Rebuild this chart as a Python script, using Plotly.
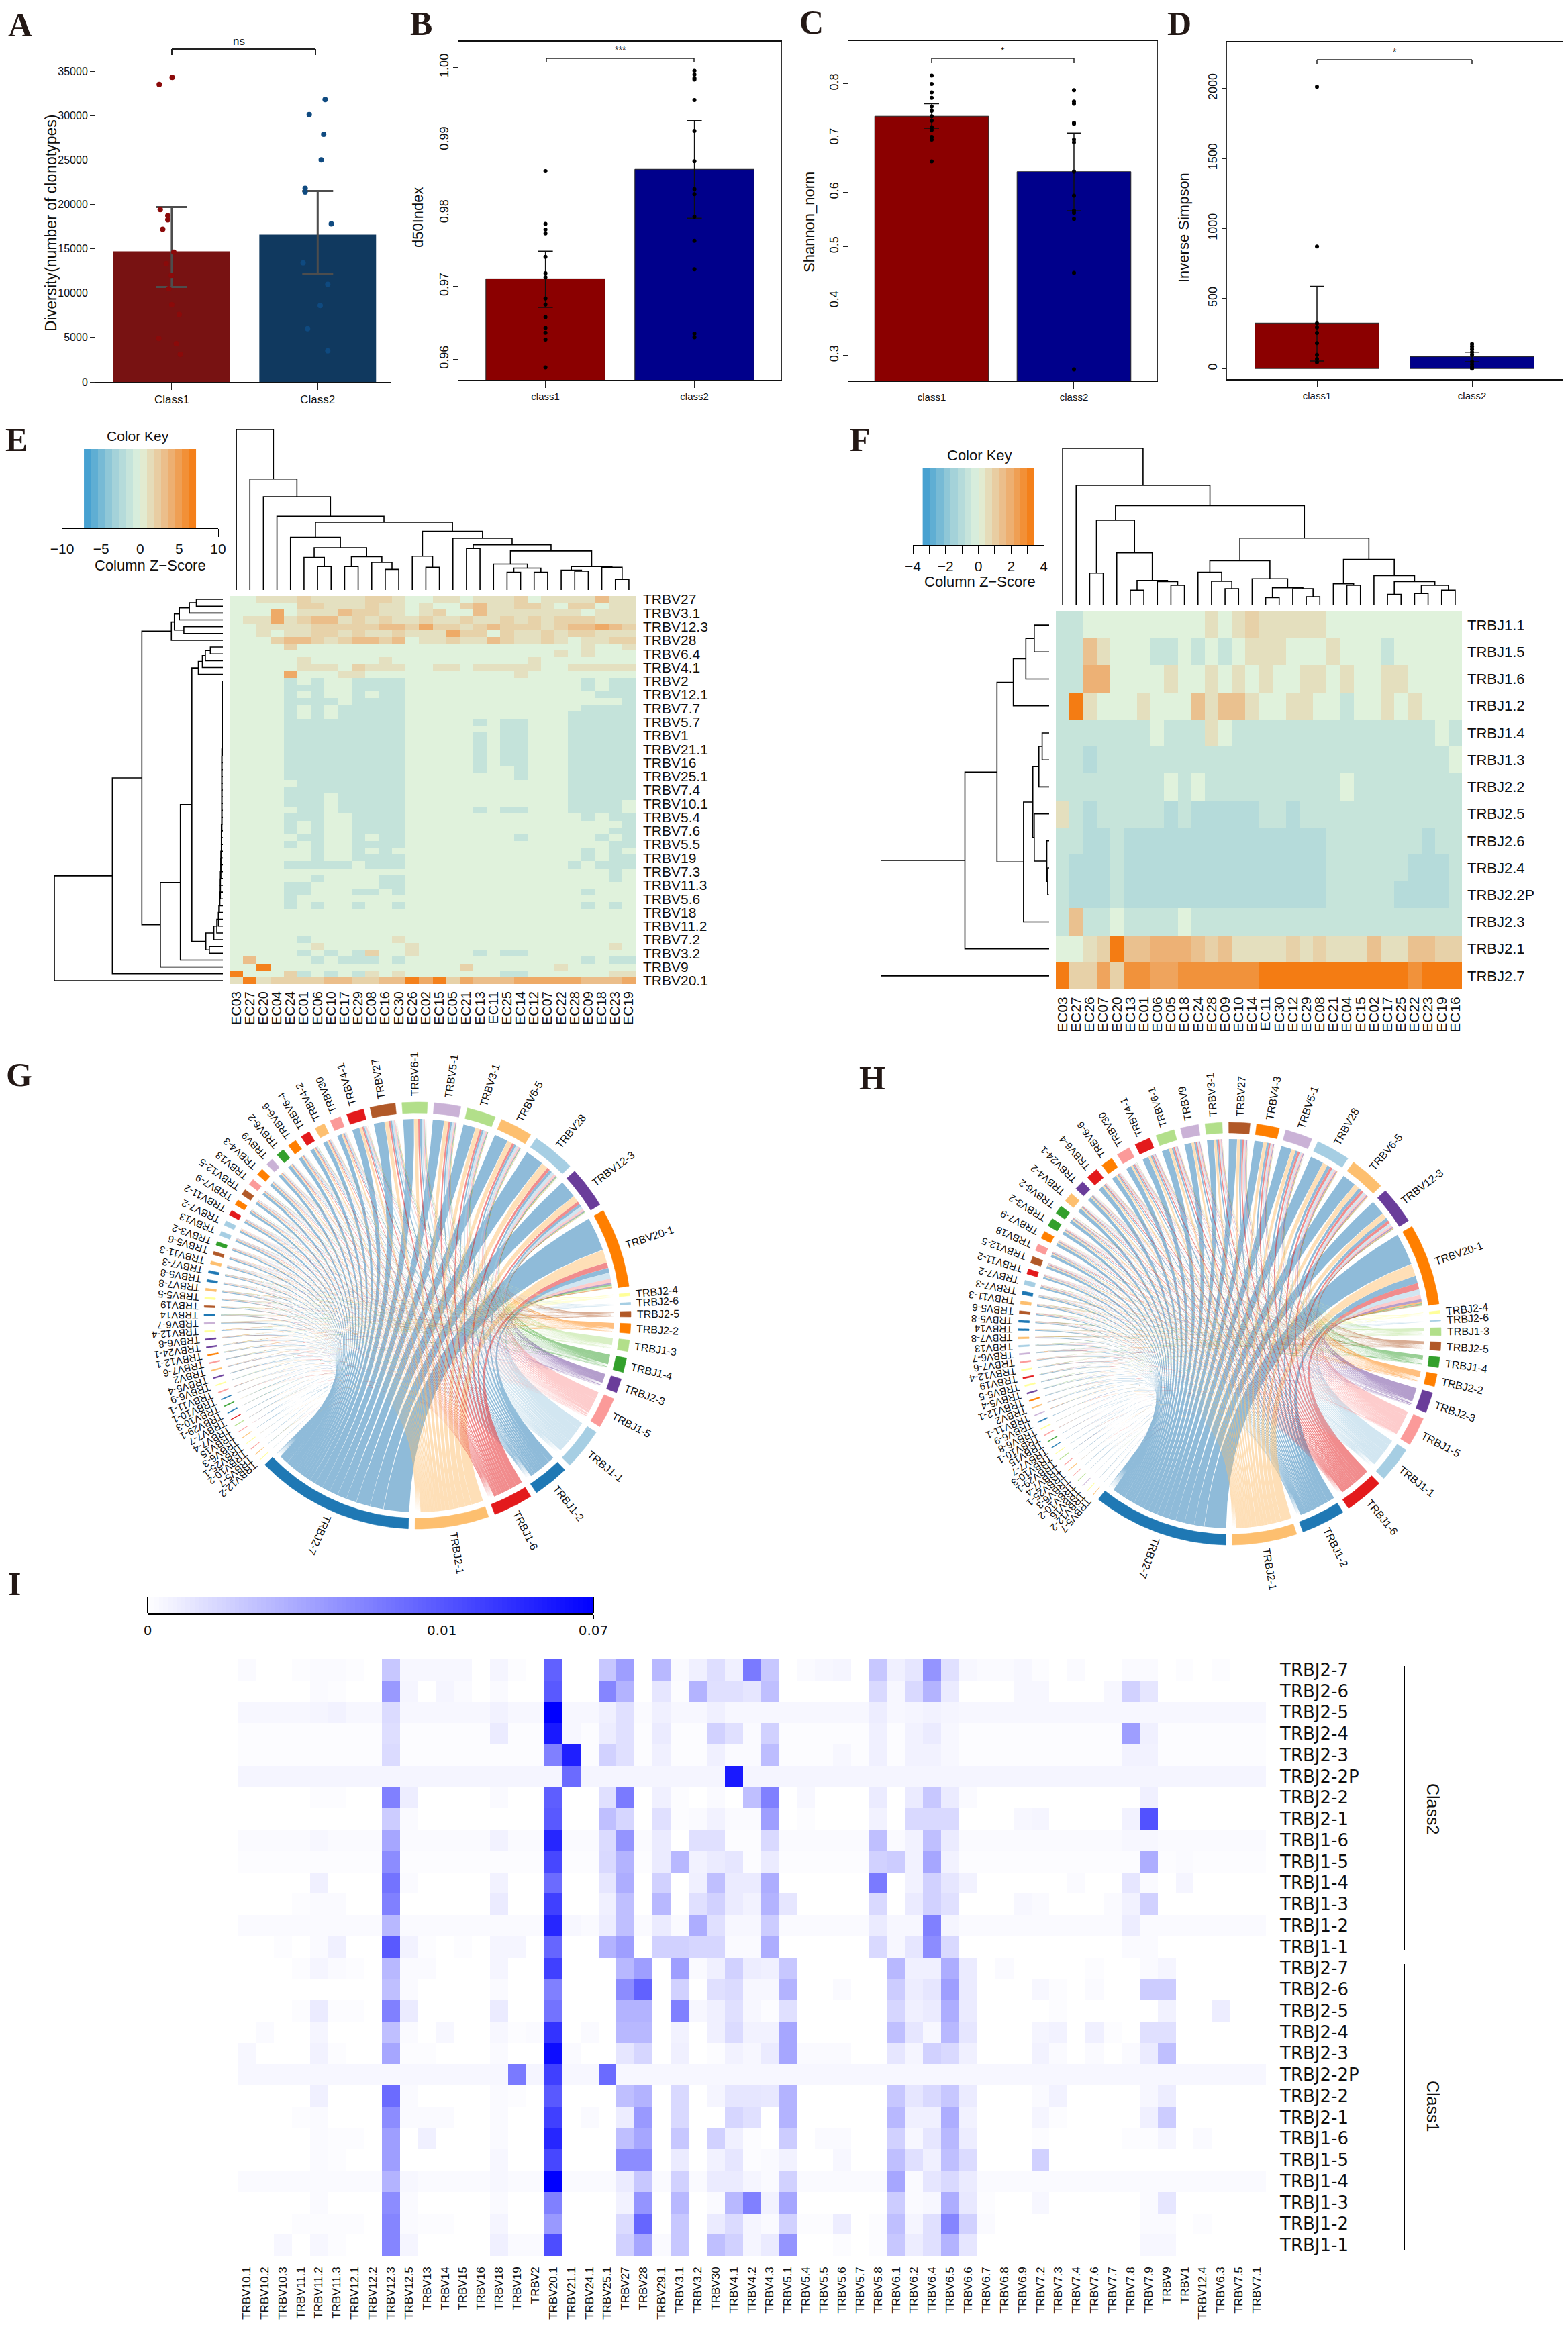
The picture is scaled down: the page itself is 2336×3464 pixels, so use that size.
import numpy as np
import plotly.graph_objects as go

W, H = 2336, 3464
SANS = "Liberation Sans"
WIDE = "DejaVu Sans"
SERIF = "Liberation Serif"

# ---------- panels A-D ----------
classes_upper = ["Class1", "Class2"]
classes_lower = ["class1", "class2"]

A_bars = [14700, 16600]
A_err_low = [10700, 12200]
A_err_high = [19700, 21500]
A_c1_pts = [33500, 34300, 19400, 18700, 18250, 17200, 14600, 13300, 12000, 10500, 8700, 7600, 4900, 4300, 3100]
A_c1_jit = [-.086, .003, -.079, -.027, -.027, -.062, .014, -.038, -.003, -.02, 0, .051, -.089, .031, .058]
A_c2_pts = [31800, 30100, 27900, 25000, 21800, 21400, 17800, 13400, 11000, 8600, 6000, 3500]
A_c2_jit = [.051, -.058, .041, .024, -.086, -.086, .093, -.1, .069, .017, -.069, .069]

B_bars = [.971, .986]
B_err_low = [.96709, .97929]
B_err_high = [.97479, .99268]
B_c1_pts = [.98574, .97854, .97775, .97722, .974, .97178, .97122, .96829, .96747, .96574, .96428, .96361, .96267, .95884]
B_c2_pts = [.9995, .999, .9985, .9983, .9955, .99126, .9871, .9833, .9826, .9795, .9762, .9723, .9635, .963]

C_bars = [.74, .638]
C_err_low = [.718, .566]
C_err_high = [.763, .709]
C_c1_pts = [.815, .7995, .784, .774, .758, .75, .74, .732, .72, .715, .702, .697, .657]
C_c2_pts = [.788, .767, .763, .728, .726, .697, .692, .638, .594, .566, .562, .551, .452, .274]

D_bars = [325, 84]
D_err_low = [53, 48]
D_err_high = [587, 117]
D_c1_pts = [2012, 871, 323, 294, 254, 182, 98, 68, 45]
D_c2_pts = [176, 157, 137, 117, 98, 49, 29, 10, 0]

# ---------- panel E ----------
E_cols = "EC03 EC27 EC20 EC04 EC24 EC01 EC06 EC10 EC17 EC29 EC08 EC16 EC30 EC26 EC02 EC15 EC05 EC21 EC13 EC11 EC25 EC14 EC12 EC07 EC22 EC28 EC09 EC18 EC23 EC19".split()
E_row_labels = "TRBV27 TRBV3.1 TRBV12.3 TRBV28 TRBV6.4 TRBV4.1 TRBV2 TRBV12.1 TRBV7.7 TRBV5.7 TRBV1 TRBV21.1 TRBV16 TRBV25.1 TRBV7.4 TRBV10.1 TRBV5.4 TRBV7.6 TRBV5.5 TRBV19 TRBV7.3 TRBV11.3 TRBV5.6 TRBV18 TRBV11.2 TRBV7.2 TRBV3.2 TRBV9 TRBV20.1".split()
E_levels = {".": 0, "b": -1.5, "t": 1.1, "T": 2.0, "o": 3.2, "O": 4.4, "R": 6.8}
B18 = "....bbbbbbbbb" + "." * 5 + "b.bb...bbbbb"
E_rows = [
    "..tttTttttTTt..tt.tttT.ttttott",
    ".....TTtttTtt.t..TottTTt.TT.tt",
    "...O.tttoTTtt.tT..ottttttt.ttt",
    ".ttOtTootTtTttTttTttTtTtTTTttt",
    ".." + "tttt" + "TTTTT" + "oo" + "T" + "O" + "TT" + "t" + "T" + "o" + "TTT" + "t" + "T" + "oo" + "O" + "o" + "T",
    "..t.ttTTtTttTtttOTT.TttTtTTttt",
    "..." + "T" + "oo" + "T" + "t" + "T" + "oo" + "T" + "o" + "." + "tt" + "T" + "tt" + "o" + "T" + "tt" + "T" + "t" + "." + "t" + "t" + "TT",
    "....T" + "." * 21 + "t..t",
    "." * 24 + "t.t" + "...",
    ".....t" + "." * 5 + "t" + "." * 10 + "t" + "." * 7,
    ".....ttt.Tttt" + "..tt.ttttt..ttttt",
    "....O...tt" + "." * 11 + "t" + "." * 8,
    "....b.b..bbbb.............b.bb",
    "....bbb..bbbb.............b.bb",
    "....b.b..b.bb" + "." * 14 + "bbb",
    "....bbbb.bbbb" + "." * 16 + "b",
    "....b.b.bbbbb" + "." * 13 + "bbbb",
    "....b.b.bbbbb" + "." * 12 + "bbbbb",
    B18,
    "....bbbbbbbbb" + "." * 7 + "bb...bbbbb",
    B18, B18, B18, B18, B18,
    "....bbbbbbbbb" + "." * 5 + "b..b...bbbbb",
    "....bbbbbbbbb" + "." * 8 + "b...bbbbb",
    ".....bbbbbbbb" + "." * 12 + "bbbbb",
    "....bbbbbbbbb" + "." * 12 + "bbbbb",
    "....bbb.bbbbb" + "." * 12 + "bbbbb",
    "....bbb.bbbbb" + "." * 12 + "bbbb.",
    ".....bb.bbbbb" + "." * 5 + "b.bb...bbbb.",
    "....bbb..bbbb" + "." * 13 + "b.bb",
    "....b.b..bbbb" + "." * 13 + "...b",
    "....b.b..bbbb" + "." * 13 + "..bb",
    ".....bb..b.bb" + "." * 8 + "b" + "." * 5 + "b.b",
    "....b.b..bbbb" + "." * 15 + "bb",
    "......b..b.b." + "." * 13 + "b.b.",
    "......b..bbbb" + "." * 13 + "b.bb",
    "....bbbbb.bbb" + "." * 12 + "b.bbb",
    "." * 28 + "b.",
    "......b....bb" + "." * 15 + "b.",
    "....bb.....bb" + "." * 17,
    "....bb...bb.b" + "." * 13 + "b...",
    "....b" + "." * 25,
    "....b.b..b..b" + "." * 13 + "b.b.",
    "." * 30, "." * 30, "." * 30, "." * 30,
    ".....b......t" + "." * 17,
    "......t......t" + "." * 14 + "t.",
    ".....b.b.bT..t" + "." * 4 + "b.bb" + "." * 8,
    ".o....b.bbb.b" + "." * 13 + "b.bb",
    "..R" + "." * 14 + "T" + "." * 6 + "t" + "." * 5,
    "R...Tb.b.bt.t" + "." * 7 + "bb" + "." * 6 + "tt",
    "tRtTTTTooTToo" + "RORTO" + "ooo" + "OOOOO" + "ooo" + "O",
]
E_col_tree = [392, 0, [270, 1, [227, 2, [179, 3, [165,
    [128, 4, [103, [79, 5, [57, 6, 7]], [81, [57, 8, 9], [67, 10, [50, 11, 12]]]]],
    [143, [82, 13, [55, 14, 15]],
     [126, 16, [110, [101, 17, 18],
                [95, [63, 19, [53, [43, 20, 21], [43, 22, 23]]],
                 [57, [48, 24, [46, 25, 26]], [55, 27, [26, 28, 29]]]]]]]]]]]]
E_chain_h = [1] * 10 + [2] * 11 + [3] * 4 + [4] * 3 + [5] * 3 + [6, 7, 8, 9, 12, 18]
E_chain_tree = [1, 12, 13]
for _i, _h in enumerate(E_chain_h):
    E_chain_tree = [_h, E_chain_tree, 14 + _i]
E_row_tree = [337, [221, [162,
    [103, [97, [87, [67, [53, 0, 1], 2], 3], [78, 4, 5]], 6],
    [125, [85, [62, [49, [41, [35, [25, 7, 8], 9], 10], 11],
           [34, E_chain_tree, [27, 51, 52]]], 53], 54]], 55], 56]

# ---------- panel F ----------
F_cols = "EC03 EC27 EC26 EC07 EC20 EC13 EC01 EC06 EC05 EC18 EC24 EC28 EC09 EC10 EC14 EC11 EC30 EC12 EC29 EC08 EC21 EC04 EC15 EC02 EC17 EC25 EC22 EC23 EC19 EC16".split()
F_row_labels = "TRBJ1.1 TRBJ1.5 TRBJ1.6 TRBJ1.2 TRBJ1.4 TRBJ1.3 TRBJ2.2 TRBJ2.5 TRBJ2.6 TRBJ2.4 TRBJ2.2P TRBJ2.3 TRBJ2.1 TRBJ2.7".split()
F_levels = {".": 0, "l": -.65, "m": -1.05, "t": .55, "T": .95, "o": 1.4, "O": 1.85, "G": 2.2, "R": 2.7, "X": 3.3}
F_rows = [
    "ll" + "." * 9 + "t.tT" + "ttttt" + "." * 10,
    "ll" + "ot" + "..." + "ll.l.l." + "ttt" + "..." + "t" + "..." + "l" + "." * 5,
    "ll" + "OO" + "...." + "t..t.t.t..tt.t..tt" + "....",
    "lXt...t...ot" + "oot..tt..l..t.t...",
    "l" * 7 + "." + "lll" + "t." + "l" * 15 + ".l",
    "llm" + "l" * 26 + ".",
    "l" * 8 + ".l." + "l" * 10 + "." + "l" * 8,
    "tlm" + "lllll" + "ml" + "mmmmm" + "llm" + "l" * 12,
    "llmml" + "m" * 15 + "l" * 7 + "mll",
    "lmmml" + "m" * 15 + "l" * 6 + "mmml",
    "lmmml" + "m" * 15 + "lllll" + "mmmml",
    "loll." + "llll" + "." + "l" * 20,
    "..tTXooOOOoTo" + "tttt" + "TtT" + "ttt" + "o" + "tt" + "oo" + "TT",
    "XTTGTRRGGRRRRRR" + "X" * 11 + "R" + "XXX",
]
F_col_tree = [383, 0, [293, 1, [243,
    [208, [79, 2, 3], [128, 4, [61, [37, 5, 6], [58, 7, [49, 8, 9]]]]],
    [164,
     [109, [81, 10, [59, 11, [41, 12, 13]]], [65, 14, [43, [19, 15, 16], [41, 17, [21, 18, 19]]]]],
     [112, [53, 20, [49, 21, 22]], [73, 23, [58, [27, 24, 25], [49, [29, 26, 27], [37, 28, 29]]]]]]]]]
F_row_tree = [362, [181, [112,
    [77, [50, [32, 0, 1], 2], 3],
    [55, [35, [22, [15, 4, 5], 6], [32, 7, [5, 8, [3, 9, 10]]]], 11]], 12], 13]

# ---------- panels G, H ----------
Bl, DB, LG, DG, Pk, Rd, LO, Or, LP, DP, Yl, Br = ("#a6cee3", "#1f78b4", "#b2df8a", "#33a02c", "#fb9a99", "#e31a1c",
                                                  "#fdbf6f", "#ff7f00", "#cab2d6", "#6a3d9a", "#ffff99", "#b15928")
G_v_names = "20-1 12-3 28 6-5 3-1 5-1 6-1 27 4-1 30 4-2 6-4 6-6 6-2 9 4-3 18 12-5 7-9 11-2 7-2 13 3-2 5-6 11-3 7-3 5-8 7-8 5-5 19 14 6-7 12-4 6-8 24-1 12-1 7-6 2 5-4 6-9 11-1 10-1 10-3 29-1 7-7 7-4 15 6-3 25-1 10-2 5-7 12-2".split()
G_v_sizes = [22, 11.5, 12, 9, 8, 7.4, 7, 7, 4.8, 3, 2.8, 2.6, 2.4, 2.2, 2, 1.9, 1.7, 1.6, 1.5, 1.4, 1.3, 1.2, 1, .9, .8, .7, .6, .6, .5, .5, .45, .45, .4, .35, .35, .35, .3, .3, .3, .25, .25, .2, .2, .2, .15, .15, .1, .1, .1, .1, .08, .08]
G_v_colors = [Or, DP, Bl, LO, LG, LP, LG, Br, Rd, Pk, LO, Rd, Or, DG, LP, Or, Pk, Br, Or, Rd, Bl, Bl, DG, Br, LO, DB, DB, LO, Yl, Br, DB, LP, Yl, DP, DP, Or, Pk, LO, DP, Yl, Pk, DB, DG, DB, Rd, LG, Pk, LO, Yl, Pk, LO, Yl]
G_j_names = "2-4 2-6 2-5 2-2 1-3 1-4 2-3 1-5 1-1 1-2 1-6 2-1 2-7".split()
G_j_sizes = [.8, .6, 1.5, 2.7, 3.2, 4, 4, 8.5, 11.6, 10, 11, 20.5, 44]
G_j_colors = [Yl, Bl, Br, Or, LG, DG, DP, Pk, Bl, DB, Rd, LO, DB]

H_v_names = "20-1 12-3 6-5 28 5-1 4-3 27 3-1 9 6-1 4-1 30 6-6 6-4 24-1 4-2 6-2 3-2 7-9 18 12-5 11-2 7-2 7-3 11-3 5-6 5-8 14 7-8 13 6-7 7-6 12-4 19 5-5 5-4 12-1 2 11-1 6-9 6-8 10-1 15 7-7 10-3 29-1 7-4 25-1 6-3 10-2 16 12-2 5-7".split()
H_v_sizes = [24, 11, 10.5, 10, 8, 6.7, 6.2, 5, 5.3, 5.5, 4.7, 4, 3.5, 3.5, 2.8, 2.8, 2.5, 2.4, 2.2, 2, 1.9, 1.5, 1.3, 1, .9, .8, .6, .5, .5, .45, .4, .4, .4, .4, .4, .35, .35, .3, .25, .25, .2, .2, .15, .15, .12, .12, .1, .1, .1, .1, .08, .08, .08]
H_v_colors = [Or, DP, LO, Bl, LP, Or, Br, LG, LP, LG, Rd, Pk, Or, Rd, DP, LO, DG, DG, Or, Pk, Br, Rd, Bl, DB, LO, Br, DB, DB, LO, Bl, LP, Pk, Yl, Rd, Yl, DP, Or, LO, LP, DB, Yl, Pk, DG, DB, Yl, LG, Pk, LO, Pk, LG, LP, Yl, LO]
H_j_names = "2-4 2-6 1-3 2-5 1-4 2-2 2-3 1-5 1-1 1-6 1-2 2-1 2-7".split()
H_j_sizes = [.8, .3, 2.3, 2.5, 3, 3.7, 6, 8.5, 10.5, 11.5, 13, 19, 40]
H_j_colors = [Yl, Bl, LG, Br, DG, Or, DP, Pk, Bl, Rd, DB, LO, DB]

# ---------- panel I ----------
I_cols = "10.1 10.2 10.3 11.1 11.2 11.3 12.1 12.2 12.3 12.5 13 14 15 16 18 19 2 20.1 21.1 24.1 25.1 27 28 29.1 3.1 3.2 30 4.1 4.2 4.3 5.1 5.4 5.5 5.6 5.7 5.8 6.1 6.2 6.4 6.5 6.6 6.7 6.8 6.9 7.2 7.3 7.4 7.6 7.7 7.8 7.9 9 1 12.4 6.3 7.5 7.1".split()
I_row_j = "2-7 2-6 2-5 2-4 2-3 2-2P 2-2 2-1 1-6 1-5 1-4 1-3 1-2 1-1".split()
I_rows = [
    (0, {0: 2, 3: 1, 4: 2, 5: 2, 6: 1, 8: 22, 9: 3, 10: 3, 11: 3, 12: 3, 14: 4, 15: 1, 17: 62, 20: 22, 21: 38, 23: 28, 24: 2, 25: 6, 26: 13, 27: 6, 28: 52, 29: 22, 31: 2, 32: 3, 33: 4, 35: 22, 36: 6, 37: 10, 38: 42, 39: 12, 40: 3, 41: 2, 42: 2, 43: 3, 44: 1, 46: 2, 49: 2, 50: 2, 52: 1, 54: 1}),
    (0, {4: 2, 5: 1, 8: 40, 9: 4, 11: 4, 12: 2, 14: 2, 17: 65, 20: 48, 21: 30, 23: 10, 24: 1, 25: 30, 26: 12, 27: 12, 28: 10, 29: 25, 35: 15, 36: 3, 37: 15, 38: 30, 39: 8, 43: 3, 44: 3, 48: 3, 49: 18, 50: 10}),
    (3, {4: 4, 5: 5, 8: 14, 14: 5, 17: 100, 20: 6, 21: 12, 22: 2, 23: 6, 26: 6, 35: 7, 37: 4, 38: 5, 39: 4}),
    (1, {8: 13, 14: 8, 17: 90, 18: 3, 20: 7, 21: 12, 23: 8, 26: 18, 27: 12, 28: 2, 29: 18, 35: 6, 37: 5, 38: 8, 39: 3, 49: 38, 50: 6}),
    (1, {8: 14, 17: 50, 18: 88, 20: 18, 21: 12, 23: 6, 26: 6, 27: 2, 28: 2, 29: 26, 33: 3, 35: 6, 37: 5, 38: 5, 39: 3, 49: 5, 50: 5}),
    (4, {18: 58, 27: 90}),
    (0, {4: 1, 5: 1, 8: 50, 9: 7, 14: 2, 17: 63, 20: 12, 21: 52, 23: 6, 24: 1, 26: 2, 28: 25, 29: 50, 31: 3, 35: 8, 37: 8, 38: 22, 39: 8, 40: 2, 50: 6}),
    (0, {8: 20, 9: 2, 17: 65, 20: 25, 21: 16, 23: 12, 24: 1, 25: 2, 26: 5, 27: 2, 28: 2, 29: 38, 31: 1, 35: 5, 37: 15, 38: 15, 39: 15, 43: 3, 44: 4, 49: 5, 50: 68}),
    (2, {4: 3, 8: 35, 14: 5, 17: 85, 20: 14, 21: 42, 23: 8, 24: 0, 25: 12, 26: 12, 27: 1, 28: 1, 29: 15, 35: 25, 37: 5, 38: 25, 39: 8, 49: 3, 50: 3}),
    (1, {8: 45, 17: 72, 20: 15, 21: 30, 23: 8, 24: 28, 25: 5, 26: 8, 27: 10, 29: 8, 35: 18, 36: 20, 37: 5, 38: 35, 39: 5, 50: 32, 52: 2}),
    (0, {4: 6, 8: 55, 9: 2, 14: 5, 17: 58, 20: 10, 21: 32, 23: 18, 25: 6, 26: 25, 27: 8, 28: 8, 29: 32, 35: 52, 37: 5, 38: 18, 39: 10, 40: 5, 46: 2, 49: 10, 50: 2, 52: 4}),
    (0, {3: 1, 4: 2, 5: 2, 8: 50, 14: 8, 17: 75, 20: 6, 21: 25, 23: 28, 25: 12, 26: 18, 27: 8, 28: 5, 29: 30, 30: 10, 35: 15, 37: 8, 38: 18, 39: 12, 43: 3, 44: 2, 48: 2, 49: 5, 50: 18}),
    (2, {8: 28, 17: 85, 18: 3, 20: 7, 21: 25, 23: 8, 25: 32, 26: 12, 27: 3, 28: 3, 29: 20, 35: 8, 36: 3, 37: 3, 38: 50, 39: 4, 49: 7}),
    (0, {2: 1, 4: 2, 5: 6, 8: 65, 9: 5, 10: 1, 12: 1, 14: 4, 15: 4, 17: 60, 20: 30, 21: 38, 23: 18, 24: 18, 25: 16, 26: 16, 27: 2, 28: 2, 29: 32, 35: 15, 36: 3, 37: 10, 38: 45, 39: 15, 49: 2, 50: 2}),
    (0, {3: 1, 4: 4, 5: 2, 6: 1, 8: 28, 9: 2, 10: 2, 14: 4, 17: 75, 21: 28, 22: 38, 24: 38, 25: 2, 26: 6, 27: 18, 28: 7, 29: 6, 30: 22, 36: 28, 37: 6, 38: 6, 39: 32, 40: 8, 42: 2, 47: 1, 50: 2, 51: 4}),
    (0, {8: 25, 9: 2, 14: 2, 17: 50, 21: 45, 22: 62, 24: 18, 26: 12, 27: 14, 28: 3, 29: 3, 30: 30, 33: 2, 36: 20, 37: 7, 38: 10, 39: 38, 40: 8, 44: 3, 45: 1, 47: 2, 50: 20, 51: 20}),
    (0, {3: 1, 4: 8, 5: 1, 6: 1, 8: 50, 9: 8, 14: 8, 17: 55, 21: 30, 22: 30, 24: 50, 25: 3, 26: 6, 27: 12, 28: 3, 29: 1, 30: 12, 36: 16, 37: 6, 38: 8, 39: 32, 40: 8, 45: 1, 51: 5, 54: 7}),
    (0, {1: 2, 4: 4, 8: 25, 9: 2, 11: 3, 14: 3, 15: 1, 16: 2, 17: 80, 19: 2, 21: 28, 22: 28, 24: 5, 26: 6, 27: 14, 28: 5, 29: 5, 30: 35, 36: 25, 37: 10, 38: 3, 39: 28, 40: 10, 44: 4, 45: 5, 47: 6, 48: 1, 50: 12, 51: 12}),
    (0, {0: 3, 4: 5, 5: 1, 8: 35, 9: 1, 10: 1, 14: 2, 17: 95, 18: 2, 21: 10, 22: 16, 24: 6, 26: 1, 27: 5, 28: 3, 29: 8, 30: 35, 31: 2, 32: 2, 33: 2, 36: 10, 37: 4, 38: 18, 39: 15, 40: 6, 44: 5, 45: 2, 47: 2, 49: 2, 50: 8, 51: 25}),
    (3, {15: 52, 16: 4, 17: 75, 20: 58}),
    (0, {4: 6, 8: 58, 9: 2, 14: 2, 15: 1, 17: 65, 21: 25, 22: 30, 24: 15, 26: 4, 27: 10, 28: 10, 29: 9, 30: 30, 36: 22, 37: 10, 38: 15, 39: 22, 40: 8, 44: 2, 45: 5, 50: 3, 51: 7}),
    (0, {3: 1, 4: 2, 8: 45, 9: 2, 10: 2, 11: 2, 14: 2, 17: 75, 19: 2, 21: 7, 22: 40, 24: 15, 27: 16, 28: 12, 30: 30, 36: 28, 37: 6, 38: 6, 39: 32, 40: 5, 44: 4, 45: 1, 50: 6, 51: 20}),
    (0, {4: 2, 5: 1, 6: 1, 8: 38, 10: 6, 14: 2, 17: 85, 21: 25, 22: 35, 24: 22, 26: 18, 27: 6, 28: 1, 30: 20, 32: 2, 33: 2, 36: 18, 37: 3, 38: 10, 39: 28, 40: 7, 44: 1, 49: 1, 50: 1, 51: 4, 53: 2}),
    (0, {4: 2, 5: 1, 8: 38, 14: 3, 17: 72, 21: 45, 22: 45, 24: 8, 26: 5, 27: 10, 28: 1, 29: 2, 30: 5, 33: 3, 36: 25, 37: 12, 38: 6, 39: 25, 40: 14, 44: 18}),
    (2, {8: 30, 9: 3, 14: 3, 17: 100, 21: 8, 22: 22, 24: 18, 26: 8, 27: 8, 28: 4, 30: 18, 36: 35, 38: 10, 39: 15, 40: 8}),
    (0, {4: 2, 8: 45, 9: 2, 14: 2, 17: 50, 21: 5, 22: 42, 24: 28, 26: 2, 27: 28, 28: 50, 29: 5, 30: 35, 36: 20, 37: 2, 38: 3, 39: 32, 40: 9, 41: 1, 44: 3, 50: 2, 51: 10}),
    (0, {3: 1, 4: 1, 5: 1, 6: 1, 8: 48, 9: 2, 10: 1, 11: 1, 14: 4, 17: 40, 21: 14, 22: 60, 24: 22, 26: 8, 27: 14, 28: 4, 29: 2, 30: 18, 31: 1, 32: 1, 33: 7, 35: 1, 36: 25, 37: 4, 38: 12, 39: 48, 40: 18, 41: 2, 50: 2, 51: 2, 53: 1}),
    (0, {2: 3, 4: 3, 5: 1, 8: 48, 9: 4, 14: 6, 15: 2, 16: 2, 17: 70, 21: 18, 22: 35, 23: 2, 24: 22, 26: 25, 27: 18, 28: 4, 29: 8, 30: 42, 33: 1, 35: 1, 36: 22, 37: 7, 38: 12, 39: 30, 40: 10, 50: 3, 51: 3}),
]

# ---------- helpers ----------
traces, annots, shapes = [], [], []
layout = dict(width=W, height=H, autosize=False, margin=dict(l=0, r=0, t=0, b=0),
              paper_bgcolor="white", plot_bgcolor="white", showlegend=False)


def px(x):
    return x / W


def py(y):
    return 1 - y / H


def axes(n, x0, x1, y0, y1, xr, yr, xkw=None, ykw=None):
    xd = dict(domain=[px(x0), px(x1)], range=list(xr), anchor=f"y{n}", visible=False, showgrid=False, zeroline=False)
    yd = dict(domain=[py(y1), py(y0)], range=list(yr), anchor=f"x{n}", visible=False, showgrid=False, zeroline=False)
    if xkw:
        xd.update(xkw, visible=True)
    if ykw:
        yd.update(ykw, visible=True)
    layout[f"xaxis{n}"] = xd
    layout[f"yaxis{n}"] = yd


def note(x, y, text, size, family=SANS, angle=0, color="#111111", bold=False):
    t = f"<b>{text}</b>" if bold else text
    annots.append(dict(x=px(x), y=py(y), xref="paper", yref="paper", text=t, showarrow=False,
                       font=dict(size=size, family=family, color=color), textangle=angle,
                       xanchor="center", yanchor="middle"))


def pline(x0, y0, x1, y1, color="#222222", width=1.5):
    shapes.append(dict(type="line", xref="paper", yref="paper", x0=px(x0), x1=px(x1), y0=py(y0), y1=py(y1),
                       line=dict(color=color, width=width)))


def bracket(x0, x1, y, drop, width=1.5):
    pline(x0, y, x1, y, width=width)
    pline(x0, y, x0, y + drop, width=width)
    pline(x1, y, x1, y + drop, width=width)


for lab, x, y in [("A", 30, 37), ("B", 627, 35), ("C", 1209, 33), ("D", 1757, 35), ("E", 24, 655), ("F", 1281, 655),
                  ("G", 28, 1601), ("H", 1300, 1606), ("I", 21, 2360)]:
    note(x, y, lab, 50, SERIF, color="#231815", bold=True)


def bar_panel(n, box, xr, yr, bars, low, high, colors, ticks, ticktxt, names, ecol, ethick, ewidth, line=None,
              tickfont=18, xfont=15, boxed=True, angle=-90):
    ykw = dict(tickvals=ticks, ticktext=ticktxt, ticks="outside", ticklen=7, tickcolor="#222222",
               tickfont=dict(family=SANS, size=tickfont, color="#111111"), tickangle=angle,
               showline=True, linecolor="#333333", linewidth=1.2, mirror=boxed, automargin=False)
    xkw = dict(tickvals=[0, 1], ticktext=names, ticks="outside", ticklen=10, tickcolor="#222222",
               tickfont=dict(family=SANS, size=xfont, color="#111111"), tickangle=0,
               showline=True, linecolor="#111111", linewidth=2, mirror=boxed, automargin=False)
    axes(n, *box, xr, yr, xkw, ykw)
    traces.append(go.Bar(x=[0, 1], y=bars, width=.8, xaxis=f"x{n}", yaxis=f"y{n}",
                         marker=dict(color=colors, line=dict(color=line or "rgba(0,0,0,0)", width=1 if line else 0)),
                         error_y=dict(type="data", symmetric=False,
                                      array=[h - b for h, b in zip(high, bars)],
                                      arrayminus=[b - l for l, b in zip(low, bars)],
                                      color=ecol, thickness=ethick, width=ewidth),
                         hoverinfo="skip"))


def points(n, xs, ys, color, size=7, sym="circle"):
    traces.append(go.Scatter(x=xs, y=ys, mode="markers", xaxis=f"x{n}", yaxis=f"y{n}", hoverinfo="skip",
                             marker=dict(color=color, size=size, symbol=sym, line=dict(width=0))))


# A
bar_panel(2, (142, 582, 92, 569), (-.524, 1.5), (0, 36058), A_bars, A_err_low, A_err_high, ["#781212", "#10395f"],
          [0, 5000, 10000, 15000, 20000, 25000, 30000, 35000],
          ["0", "5000", "10000", "15000", "20000", "25000", "30000", "35000"], classes_upper, "#4d4d4d", 3, 23,
          tickfont=16, xfont=17, boxed=False, angle=0)
points(2, A_c1_jit, A_c1_pts, "#8b0a0a", 8)
points(2, [1 + j for j in A_c2_jit], A_c2_pts, "#0f4a80", 8)
layout["yaxis2"].update(linewidth=1)
note(76, 333, "Diversity(number of clonotypes)", 23, SANS, -90)
bracket(256, 470, 73, 9, 2)
note(356, 61, "ns", 17, SANS)

# B
bar_panel(3, (683, 1164, 62, 566), (-.584, 1.583), (.95715, 1.0035), B_bars, B_err_low, B_err_high,
          ["#8b0000", "#00008b"], [.96, .97, .98, .99, 1.0], ["0.96", "0.97", "0.98", "0.99", "1.00"], classes_lower,
          "#111111", 1.5, 11, line="#222222")
points(3, [0] * len(B_c1_pts), B_c1_pts, "black", 6)
points(3, [1] * len(B_c2_pts), B_c2_pts, "black", 6)
note(623, 324, "d50Index", 22, SANS, -90)
bracket(814, 1034, 87, 6)
note(924, 74, "***", 14, SANS)

# C
bar_panel(4, (1264, 1724, 61, 567), (-.585, 1.585), (.2536, .8786), C_bars, C_err_low, C_err_high,
          ["#8b0000", "#00008b"], [.3, .4, .5, .6, .7, .8], ["0.3", "0.4", "0.5", "0.6", "0.7", "0.8"], classes_lower,
          "#111111", 1.5, 11, line="#222222")
points(4, [0] * len(C_c1_pts), C_c1_pts, "black", 6)
points(4, [1] * len(C_c2_pts), C_c2_pts, "black", 6)
note(1205, 331, "Shannon_norm", 22, SANS, -90)
bracket(1388, 1600, 87, 7)
note(1494, 75, "*", 14, SANS)

# D
bar_panel(5, (1828, 2328, 63, 565), (-.58, 1.584), (-76, 2329), D_bars, D_err_low, D_err_high,
          ["#8b0000", "#00008b"], [0, 500, 1000, 1500, 2000], ["0", "500", "1000", "1500", "2000"], classes_lower,
          "#111111", 1.5, 11, line="#222222")
points(5, [0] * len(D_c1_pts), D_c1_pts, "black", 6)
points(5, [1] * len(D_c2_pts), D_c2_pts, "black", 6)
note(1763, 339, "Inverse Simpson", 22, SANS, -90)
bracket(1962, 2193, 89, 7)
note(2078, 77, "*", 14, SANS)

# ---------- heatmaps ----------
HEAT_SCALE = [[0, "#3b9bd0"], [.25, "#9bcdd8"], [.5, "#e0f2dc"], [.75, "#ecb77f"], [1, "#f5780c"]]


def decode(rows, levels, ncol):
    return [[levels[c] for c in (r + "." * ncol)[:ncol]] for r in rows]


def dend_lines(tree):
    """Return position segments of a [height, left, right] tree; leaves are their index."""
    xs, ys = [], []

    def walk(node):
        if not isinstance(node, list):
            return float(node), 0.0
        h, l, r = node
        pl, hl = walk(l)
        pr, hr = walk(r)
        xs.extend([pl, pl, pr, pr, None])
        ys.extend([hl, h, h, hr, None])
        return (pl + pr) / 2, h

    walk(tree)
    return xs, ys


def heat_panel(n, box, top_box, left_box, key_box, z, zlim, col_labels, row_vals, row_labels,
               col_tree, row_tree, top_h, left_h, key_range, key_ticks, key_text, lab_size, col_size, standoff):
    nrow, ncol = len(z), len(z[0])
    x0, x1, y0, y1 = box
    axes(n, x0, x1, y0, y1, (-.5, ncol - .5), (nrow - .5, -.5),
         dict(tickvals=list(range(ncol)), ticktext=col_labels, tickangle=-90, ticks="", side="bottom",
              tickfont=dict(family=SANS, size=col_size, color="#111111"), ticklabelstandoff=6, automargin=False),
         dict(tickvals=row_vals, ticktext=row_labels, ticks="", side="right",
              tickfont=dict(family=SANS, size=lab_size, color="#111111"), ticklabelstandoff=standoff, automargin=False))
    traces.append(go.Heatmap(z=z, x=list(range(ncol)), y=list(range(nrow)), xaxis=f"x{n}", yaxis=f"y{n}",
                             colorscale=HEAT_SCALE, zmin=-zlim, zmax=zlim, showscale=False, hoverinfo="skip"))
    axes(n + 1, x0, x1, *top_box, (-.5, ncol - .5), (0, top_h))
    xs, ys = dend_lines(col_tree)
    traces.append(go.Scatter(x=xs, y=ys, mode="lines", xaxis=f"x{n+1}", yaxis=f"y{n+1}", hoverinfo="skip",
                             line=dict(color="black", width=1.6), connectgaps=False))
    axes(n + 2, *left_box, y0, y1, (left_h, 0), (nrow - .5, -.5))
    xs, ys = dend_lines(row_tree)
    traces.append(go.Scatter(x=ys, y=xs, mode="lines", xaxis=f"x{n+2}", yaxis=f"y{n+2}", hoverinfo="skip",
                             line=dict(color="black", width=1.6), connectgaps=False))
    kx0, kx1, ky0, ky1, c0, c1, bands = key_box
    centers = list(np.linspace(c0, c1, bands * 2 + 1)[1::2])
    axes(n + 3, kx0, kx1, ky0, ky1, key_range, (-.5, .5),
         dict(tickvals=key_ticks, ticktext=key_text, ticks="outside", ticklen=12, tickcolor="black",
              tickfont=dict(family=SANS, size=21, color="#111111"), tickangle=0, showline=True, linecolor="black",
              linewidth=1.5, automargin=False))
    traces.append(go.Heatmap(z=[centers], x=centers, y=[0], xaxis=f"x{n+3}", yaxis=f"y{n+3}", colorscale=HEAT_SCALE,
                             zmin=c0, zmax=c1, showscale=False, hoverinfo="skip"))


E_z = decode(E_rows, E_levels, 30)
heat_panel(6, (342, 947, 888, 1466), (639, 879), (81, 332), (92.5, 325, 669, 786, -7.2, 7.2, 16), E_z, 7.3, E_cols,
           list(range(0, 57, 2)), E_row_labels, E_col_tree, E_row_tree, 392, 337, (-10, 10),
           [-10, -5, 0, 5, 10], ["\u221210", "\u22125", "0", "5", "10"], 21, 20, 10)
note(205, 649, "Color Key", 21)
note(224, 842, "Column Z\u2212Score", 22)

F_z = decode(F_rows, F_levels, 30)
heat_panel(10, (1573, 2178, 911, 1474), (668, 902), (1312, 1563), (1360, 1555, 698, 812, -3.4, 3.4, 16), F_z, 3.4, F_cols,
           list(range(14)), F_row_labels, F_col_tree, F_row_tree, 383, 362, (-4, 4),
           [-4, -3, -2, -1, 0, 1, 2, 3, 4], ["\u22124", "", "\u22122", "", "0", "", "2", "", "4"], 22, 21, 7)
note(1459, 678, "Color Key", 22)
note(1460, 866, "Column Z\u2212Score", 22)

# ---------- chord diagrams ----------
CHAR_W = {"T": .61, "R": .72, "B": .67, "V": .67, "J": .5, "-": .33}
V_SIDE_SHARPEN = 1.3
RIBBON_FILL = .985


def hex_rgba(c, a):
    return f"rgba({int(c[1:3],16)},{int(c[3:5],16)},{int(c[5:7],16)},{a})"


def arc(r, a0, a1):
    n = max(2, int(abs(a1 - a0) / 1.0) + 2)
    t = np.radians(np.linspace(a0, a1, n))
    return list(r * np.cos(t)), list(r * np.sin(t))


def bez(a, b, r):
    t = np.linspace(0, 1, 16)
    pa = r * np.array([np.cos(np.radians(a)), np.sin(np.radians(a))])
    pb = r * np.array([np.cos(np.radians(b)), np.sin(np.radians(b))])
    x = (1 - t) ** 2 * pa[0] + t ** 2 * pb[0]
    y = (1 - t) ** 2 * pa[1] + t ** 2 * pb[1]
    return list(x), list(y)


def chord(n, cx, cy, R, theta0, gap, v_names, v_sizes, v_colors, j_names, j_sizes, j_colors):
    axes(n, cx - 360, cx + 360, cy - 360, cy + 360, (-360, 360), (-360, 360))
    total = sum(v_sizes) + sum(j_sizes)
    nsec = len(v_sizes) + len(j_sizes)
    s = (360 - gap * nsec) / total
    seq = [("V", 0)] + [("J", k) for k in range(len(j_sizes))] + [("V", k) for k in range(len(v_sizes) - 1, 0, -1)]
    pos = {}
    th = theta0
    for kind, k in seq:
        size = (v_sizes[k] if kind == "V" else j_sizes[k]) * s
        pos[(kind, k)] = (th, th - size)
        th -= size + gap
    inner, outer, rl = R - 16, R, R - 25
    vt = sum(v_sizes)
    j_pow = [j ** V_SIDE_SHARPEN for j in j_sizes]
    jp = sum(j_pow)
    rib = {c: ([], []) for c in set(j_colors)}
    v_cursor = {k: pos[("V", k)][0] for k in range(len(v_sizes))}
    j_cursor = {k: pos[("J", k)][0] for k in range(len(j_sizes))}
    links = []
    for vi in range(len(v_sizes)):
        for ji in range(len(j_sizes) - 1, -1, -1):
            vs = v_sizes[vi] * s * j_pow[ji] / jp
            js = j_sizes[ji] * s * v_sizes[vi] / vt
            a0 = v_cursor[vi]
            b0 = j_cursor[ji]
            v_cursor[vi] -= vs
            j_cursor[ji] -= js
            links.append((ji, a0, a0 - vs * RIBBON_FILL, b0, b0 - js * RIBBON_FILL))
    for ji, a0, a1, b0, b1 in sorted(links, key=lambda q: -q[0]):
        px_, py_ = rib[j_colors[ji]]
        e1 = bez(a0, b1, rl)
        e2 = arc(rl, b1, b0)
        e3 = bez(b0, a1, rl)
        e4 = arc(rl, a1, a0)
        px_ += e1[0] + e2[0] + e3[0] + e4[0] + [None]
        py_ += e1[1] + e2[1] + e3[1] + e4[1] + [None]
    for c in [DB, LO, Rd, Bl, Pk, DP, DG, LG, Or, Br, Yl]:
        if c in rib:
            traces.append(go.Scatter(x=rib[c][0], y=rib[c][1], mode="lines", fill="toself", xaxis=f"x{n}", yaxis=f"y{n}",
                                     fillcolor=hex_rgba(c, .5), line=dict(width=0), hoverinfo="skip"))
    track = {}
    for kind, names, colors, prefix in (("V", v_names, v_colors, "TRBV"), ("J", j_names, j_colors, "TRBJ")):
        for k, (nm, c) in enumerate(zip(names, colors)):
            a0, a1 = pos[(kind, k)]
            ox, oy = arc(outer, a0, a1)
            ix, iy = arc(inner, a1, a0)
            tx, ty = track.setdefault(c, ([], []))
            tx += ox + ix + [ox[0], None]
            ty += oy + iy + [oy[0], None]
            mid = (a0 + a1) / 2
            label = prefix + nm
            size = 16 if (kind == "J" or k < 9) else 15
            w = sum(CHAR_W.get(ch, .556) for ch in label) * size
            rc = outer + 9 + w / 2
            note(cx + rc * np.cos(np.radians(mid)), cy - rc * np.sin(np.radians(mid)), label, size, SANS, -mid)
    for c, (tx, ty) in track.items():
        traces.append(go.Scatter(x=tx, y=ty, mode="lines", fill="toself", xaxis=f"x{n}", yaxis=f"y{n}", fillcolor=c,
                                 line=dict(color=c, width=.6), hoverinfo="skip"))


chord(14, 622, 1960, 318, 29.5, 1.8, G_v_names, G_v_sizes, G_v_colors, G_j_names, G_j_sizes, G_j_colors)
chord(15, 1832, 1987, 315, 30.5, 1.8, H_v_names, H_v_sizes, H_v_colors, H_j_names, H_j_sizes, H_j_colors)

# ---------- panel I ----------
I_z = [[vals.get(c, base) for c in range(len(I_cols))] for base, vals in I_rows]
I_scale = [[0, "#ffffff"], [1, "#0000ff"]]
axes(16, 354, 1886, 2472, 3361, (-.5, 56.5), (27.5, -.5),
     dict(tickvals=list(range(57)), ticktext=["TRBV" + c for c in I_cols], tickangle=-90, ticks="", side="bottom",
          tickfont=dict(family=SANS, size=17, color="#111111"), ticklabelstandoff=12, automargin=False),
     dict(tickvals=list(range(28)), ticktext=["TRBJ" + j for j in I_row_j] * 2, ticks="", side="right",
          tickfont=dict(family=WIDE, size=26, color="#111111"), ticklabelstandoff=20, automargin=False))
traces.append(go.Heatmap(z=I_z, x=list(range(57)), y=list(range(28)), xaxis="x16", yaxis="y16", colorscale=I_scale,
                         zmin=0, zmax=100, showscale=False, hoverinfo="skip"))
pline(2092, 2482, 2092, 2906, "black", 2)
pline(2092, 2926, 2092, 3352, "black", 2)
note(2135, 2695, "Class2", 25, SANS, 90)
note(2135, 3138, "Class1", 25, SANS, 90)

I_key_steps = list(range(0, 101))
axes(17, 220, 884, 2379, 2403, (0, 100), (-.5, .5),
     dict(tickvals=[0, 66, 100], ticktext=["0", "0.01", "0.07"], ticks="outside", ticklen=6, tickcolor="black",
          tickfont=dict(family=WIDE, size=20, color="#111111"), tickangle=0, showline=True, linecolor="black",
          linewidth=3, automargin=False))
traces.append(go.Heatmap(z=[I_key_steps], x=I_key_steps, y=[0], xaxis="x17", yaxis="y17", colorscale=I_scale,
                         zmin=0, zmax=100, showscale=False, hoverinfo="skip"))
pline(220, 2379, 220, 2403, "black", 2)
pline(884, 2379, 884, 2403, "black", 2)

layout["annotations"] = annots
layout["shapes"] = shapes
fig = go.Figure(data=traces, layout=go.Layout(**layout))
fig.write_html("out.html", config={"displayModeBar": False}, post_script="document.body.style.margin='0';")
